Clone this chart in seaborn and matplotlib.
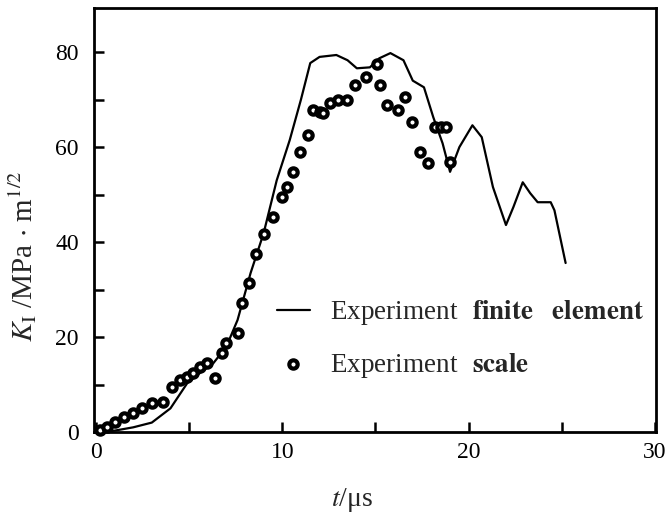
import matplotlib
matplotlib.use("Agg")
import matplotlib.pyplot as plt
import seaborn as sns
import pandas as pd

# Finite element curve
fe_t = [0.0, 1.0, 2.0, 3.0, 4.0, 4.9, 5.6, 6.3, 7.0, 7.6, 8.3, 9.0, 9.7, 10.4, 11.0, 11.5,
        12.0, 12.9, 13.5, 14.0, 14.7, 15.2, 15.8, 16.5, 17.0, 17.6, 18.1, 18.6, 19.0, 19.5,
        20.2, 20.7, 21.3, 22.0, 22.4, 22.9, 23.3, 23.7, 24.4, 24.6, 25.2]
fe_k = [0.0, 0.3, 1.0, 2.0, 5.0, 10.3, 12.5, 14.5, 18.0, 23.6, 33.5, 41.9, 53.0, 61.5, 70.0, 77.7,
        79.0, 79.4, 78.3, 76.6, 76.8, 78.7, 79.8, 78.3, 74.0, 72.6, 66.3, 60.8, 54.8, 60.0,
        64.6, 62.1, 51.6, 43.6, 47.4, 52.6, 50.3, 48.4, 48.4, 46.7, 35.6]

# Experimental (scale) points
ex_t = [0.2, 0.6, 1.0, 1.5, 2.0, 2.5, 3.0, 3.6, 4.1, 4.5, 4.9, 5.2, 5.6, 5.95, 6.4, 6.75,
        7.0, 7.6, 7.85, 8.2, 8.6, 9.0, 9.5, 10.0, 10.25, 10.6, 10.95, 11.4, 11.65, 12.0,
        12.2, 12.55, 13.0, 13.45, 13.9, 14.5, 15.1, 15.25, 15.6, 16.2, 16.6, 16.95, 17.4,
        17.8, 18.2, 18.5, 18.8, 19.0]
ex_k = [0.4, 1.0, 2.1, 3.2, 4.0, 5.0, 6.1, 6.4, 9.5, 11.0, 11.6, 12.4, 13.7, 14.5, 11.3, 16.6,
        18.7, 20.8, 27.1, 31.3, 37.6, 41.8, 45.3, 49.5, 51.6, 54.8, 59.0, 62.5, 67.8, 67.4,
        67.2, 69.2, 69.9, 69.9, 73.0, 74.8, 77.6, 73.0, 68.8, 67.8, 70.5, 65.3, 59.0,
        56.6, 64.2, 64.2, 64.2, 56.9]

x_ticks = [0, 5, 10, 15, 20, 25, 30]
x_labels = ["0", "", "10", "", "20", "", "30"]
y_ticks = [0, 10, 20, 30, 40, 50, 60, 70, 80]
y_labels = ["0", "", "20", "", "40", "", "60", "", "80"]

sns.set_style("ticks")
plt.rcParams["font.family"] = ["Liberation Serif", "DejaVu Serif"]
plt.rcParams["mathtext.fontset"] = "stix"

fig = plt.figure(figsize=(6.65, 5.15), dpi=100)
ax = fig.add_axes([0.1414, 0.161, 0.8451, 0.8235])

fe = pd.DataFrame({"t": fe_t, "k": fe_k})
ex = pd.DataFrame({"t": ex_t, "k": ex_k})

sns.lineplot(data=fe, x="t", y="k", ax=ax, color="black", lw=1.6, sort=False,
             label=r"Experiment $\;\,\mathbf{finite}\;\;\;\,\mathbf{element}$")
sns.scatterplot(data=ex, x="t", y="k", ax=ax, marker="o", s=36, facecolor="white",
                edgecolor="black", linewidth=3.0, label=r"Experiment $\;\,\mathbf{scale}$",
                zorder=3, clip_on=False)

ax.set_xlim(-0.1, 30.05)
ax.set_ylim(0, 89.3)
ax.set_xticks(x_ticks)
ax.set_xticklabels(x_labels)
ax.set_yticks(y_ticks)
ax.set_yticklabels(y_labels)
ax.tick_params(direction="in", length=7, width=1.8, labelsize=17, colors="black")
ax.tick_params(axis="x", pad=7)
ax.tick_params(axis="y", pad=11)
for s in ax.spines.values():
    s.set_linewidth(2.0)
    s.set_color("black")

ax.set_xlabel(r"$t$/μs", fontsize=20)
ax.xaxis.set_label_coords(0.459, -0.127)
ax.set_ylabel(r"$K_{\rm I}$ /MPa $\cdot$ m$^{1/2}$", fontsize=21)
ax.yaxis.set_label_coords(-0.097, 0.415)

leg = ax.legend(loc="upper left", bbox_to_anchor=(0.326, 0.315), frameon=False,
                fontsize=19.5, handlelength=1.2, labelspacing=0.85, handletextpad=0.75,
                borderaxespad=0, borderpad=0)

fig.savefig("out.png", dpi=100)
